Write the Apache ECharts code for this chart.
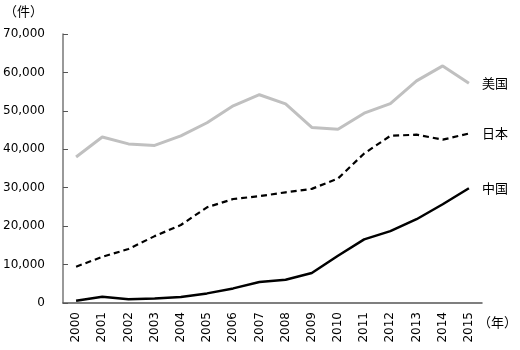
<!DOCTYPE html>
<html>
<head>
<meta charset="utf-8">
<script src="https://cdn.jsdelivr.net/npm/echarts@6/dist/echarts.min.js"></script>
<style>
html,body{margin:0;padding:0;background:#fff;}
#chart{width:520px;height:350px;}
</style>
</head>
<body>
<div id="chart"></div>
<script>
// Patent counts by year
const years = ['2000','2001','2002','2003','2004','2005','2006','2007','2008','2009','2010','2011','2012','2013','2014','2015'];
const usa   = [38000, 43200, 41400, 41000, 43500, 46900, 51300, 54200, 51800, 45700, 45200, 49400, 51900, 57800, 61700, 57200];
const japan = [9450, 12000, 14050, 17400, 20300, 24900, 27060, 27800, 28800, 29700, 32400, 38900, 43500, 43800, 42500, 44100];
const china = [600, 1650, 950, 1200, 1550, 2500, 3800, 5450, 6070, 7800, 12300, 16560, 18700, 21800, 25700, 29850];
const yTicks = { min: 0, max: 70000, interval: 10000 };

const font = "'DejaVu Sans', 'Noto Sans CJK JP', sans-serif";
const cjk = "'Noto Sans CJK JP', sans-serif";

const chart = echarts.init(document.getElementById('chart'));

function endLabel(name) {
  return {
    show: true,
    formatter: name,
    distance: 13,
    color: '#000',
    fontFamily: cjk,
    fontSize: 13
  };
}

chart.setOption({
  animation: false,
  backgroundColor: '#fff',
  grid: { left: 62, right: 38, top: 34, bottom: 47 },
  xAxis: {
    type: 'category',
    data: years,
    boundaryGap: true,
    axisLine: { lineStyle: { color: '#555', width: 1.5 } },
    axisTick: { inside: true, length: 4, lineStyle: { color: '#555' } },
    axisLabel: { rotate: 90, margin: 9, color: '#000', fontFamily: font, fontSize: 12 },
    splitLine: { show: false }
  },
  yAxis: {
    type: 'value',
    min: yTicks.min,
    max: yTicks.max,
    interval: yTicks.interval,
    axisLine: { show: true, lineStyle: { color: '#777', width: 1.5 } },
    axisTick: { show: true, inside: true, length: 5, lineStyle: { color: '#555' } },
    axisLabel: {
      margin: 18, color: '#000', fontFamily: font, fontSize: 12,
      formatter: v => v.toLocaleString('en-US')
    },
    splitLine: { show: false }
  },
  graphic: [
    { type: 'text', left: 4, top: 5, style: { text: '（件）', fill: '#000', font: '13px ' + cjk } },
    { type: 'text', left: 478, top: 316, style: { text: '（年）', fill: '#000', font: '13px ' + cjk } }
  ],
  series: [
    {
      name: '美国', type: 'line', data: usa, symbol: 'none',
      lineStyle: { color: '#c0c0c0', width: 3 },
      itemStyle: { color: '#c0c0c0' },
      endLabel: endLabel('美国')
    },
    {
      name: '日本', type: 'line', data: japan, symbol: 'none',
      lineStyle: { color: '#000', width: 2.2, type: [6, 4] },
      itemStyle: { color: '#000' },
      endLabel: endLabel('日本')
    },
    {
      name: '中国', type: 'line', data: china, symbol: 'none',
      lineStyle: { color: '#000', width: 2.5 },
      itemStyle: { color: '#000' },
      endLabel: endLabel('中国')
    }
  ]
});
</script>
</body>
</html>
